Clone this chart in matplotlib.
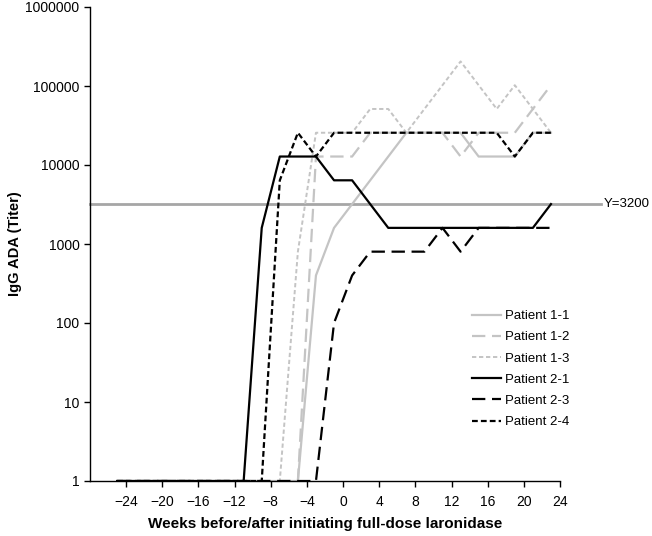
import matplotlib
matplotlib.use("Agg")
import matplotlib.pyplot as plt
from matplotlib.ticker import FixedLocator, FixedFormatter, NullLocator

plt.rcParams["font.family"] = ["Liberation Sans", "DejaVu Sans"]

# sampling weeks (every 2 weeks, -25 .. 23)
weeks = [-25, -23, -21, -19, -17, -15, -13, -11, -9, -7, -5, -3, -1,
         1, 3, 5, 7, 9, 11, 13, 15, 17, 19, 21, 23]

p1_1 = [1, 1, 1, 1, 1, 1, 1, 1, 1, 1, 1, 400, 1600,
        3200, 6400, 12800, 25600, 25600, 25600, 25600, 12800, 12800, 12800, 25600, 25600]
p1_2 = [1, 1, 1, 1, 1, 1, 1, 1, 1, 1, 1, 12800, 12800,
        12800, 25600, 25600, 25600, 25600, 25600, 12800, 25600, 25600, 25600, 51200, 102400]
p1_3 = [1, 1, 1, 1, 1, 1, 1, 1, 1, 1, 800, 25600, 25600,
        25600, 51200, 51200, 25600, 51200, 102400, 204800, 102400, 51200, 102400, 51200, 25600]
p2_1 = [1, 1, 1, 1, 1, 1, 1, 1, 1600, 12800, 12800, 12800, 6400,
        6400, 3200, 1600, 1600, 1600, 1600, 1600, 1600, 1600, 1600, 1600, 3200]
p2_3 = [1, 1, 1, 1, 1, 1, 1, 1, 1, 1, 1, 1, 100,
        400, 800, 800, 800, 800, 1600, 800, 1600, 1600, 1600, 1600, 1600]
p2_4 = [1, 1, 1, 1, 1, 1, 1, 1, 1, 6400, 25600, 12800, 25600,
        25600, 25600, 25600, 25600, 25600, 25600, 25600, 25600, 25600, 12800, 25600, 25600]

threshold = 3200

fig = plt.figure(figsize=(6.52, 5.36), dpi=100)
ax = fig.add_axes([90 / 652, 1 - 481 / 536, 470 / 652, 474 / 536])

grey = "#c4c4c4"
ax.axhline(threshold, xmin=0, xmax=(601 - 90) / 470, color="#a6a6a6", lw=2,
           clip_on=False, zorder=1)
ax.text(604 / 652, 1 - 204 / 536, "Y=3200", transform=fig.transFigure,
        va="center", ha="left", fontsize=9.5)

ax.plot(weeks, p1_1, color=grey, lw=1.6, label="Patient 1-1", zorder=2)
ax.plot(weeks, p1_2, color=grey, lw=1.6, dashes=(6, 3), label="Patient 1-2", zorder=2)
ax.plot(weeks, p1_3, color=grey, lw=1.4, dashes=(2.2, 1.4), label="Patient 1-3", zorder=2)
ax.plot(weeks, p2_1, color="black", lw=1.6, label="Patient 2-1", zorder=3)
ax.plot(weeks, p2_3, color="black", lw=1.6, dashes=(6, 3), label="Patient 2-3", zorder=3)
ax.plot(weeks, p2_4, color="black", lw=1.6, dashes=(2.6, 1.4), label="Patient 2-4", zorder=3)

ax.set_yscale("log")
ax.set_ylim(1, 1e6)
ax.set_xlim(-28, 24)
yt = [1, 10, 100, 1000, 10000, 100000, 1000000]
ax.yaxis.set_major_locator(FixedLocator(yt))
ax.yaxis.set_major_formatter(FixedFormatter([str(v) for v in yt]))
ax.yaxis.set_minor_locator(NullLocator())
ax.set_xticks(range(-24, 25, 4))
ax.tick_params(axis="both", labelsize=10, length=4, width=1, direction="out")
ax.tick_params(axis="x", pad=6)

for s in ["top", "right"]:
    ax.spines[s].set_visible(False)
for s in ["left", "bottom"]:
    ax.spines[s].set_linewidth(1)

ax.set_xlabel("Weeks before/after initiating full-dose laronidase",
              fontsize=11, fontweight="bold", labelpad=6)
ax.set_ylabel("IgG ADA (Titer)", fontsize=10.5, fontweight="bold")
ax.yaxis.set_label_coords((22 - 90) / 470, 0.5)

ax.legend(loc="upper left", bbox_to_anchor=(0.802, 0.372), frameon=False,
          fontsize=9.5, handlelength=2.2, handletextpad=0.3, labelspacing=0.68,
          borderaxespad=0)

fig.savefig("out.png", dpi=100)
